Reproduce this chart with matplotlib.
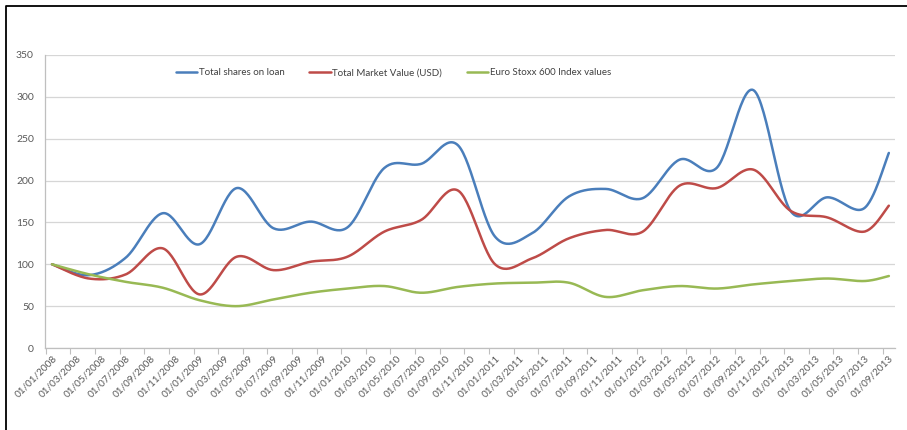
import numpy as np
import matplotlib.pyplot as plt
from matplotlib.lines import Line2D

# Quarterly observations, indexed to 100 at Jan 2008
dates = ["2008-01", "2008-04", "2008-07", "2008-10",
         "2009-01", "2009-04", "2009-07", "2009-10",
         "2010-01", "2010-04", "2010-07", "2010-10",
         "2011-01", "2011-04", "2011-07", "2011-10",
         "2012-01", "2012-04", "2012-07", "2012-10",
         "2013-01", "2013-04", "2013-07", "2013-09"]
shares_on_loan = [100, 87, 108, 161, 124, 191, 143, 151, 144, 215, 220, 242,
                  133, 137, 181, 190, 179, 225, 215, 308, 164, 180, 167, 233]
market_value = [100, 83, 88, 119, 64, 109, 93, 103, 109, 139, 153, 188,
                100, 107, 131, 141, 139, 194, 191, 213, 164, 156, 139, 170]
stoxx600 = [100, 88, 79, 72, 57, 50, 58, 66, 71, 74, 66, 73,
            77, 78, 78, 61, 69, 74, 71, 76, 80, 83, 80, 86]

# category labels every two months
tick_labels = [f"01/{m:02d}/{y}" for y in range(2008, 2014) for m in range(1, 13, 2)][:35]


def month_index(d):
    y, m = d.split("-")
    return (int(y) - 2008) * 12 + int(m) - 1


def smooth(x, y, n=30):
    # Excel-style smoothed line: cubic Bezier with control points at 1/6 of neighbour chords
    p = np.column_stack([x, y]).astype(float)
    out = []
    for i in range(len(p) - 1):
        p0 = p[i - 1] if i > 0 else p[i]
        p3 = p[i + 2] if i + 2 < len(p) else p[i + 1]
        c1 = p[i] + (p[i + 1] - p0) / 6
        c2 = p[i + 1] - (p3 - p[i]) / 6
        t = np.linspace(0, 1, n)[:, None]
        seg = ((1 - t) ** 3 * p[i] + 3 * (1 - t) ** 2 * t * c1
               + 3 * (1 - t) * t ** 2 * c2 + t ** 3 * p[i + 1])
        out.append(seg if i == 0 else seg[1:])
    seg = np.vstack(out)
    return seg[:, 0], seg[:, 1]


plt.rcParams['font.family'] = ['Lato', 'DejaVu Sans']
fig = plt.figure(figsize=(9.07, 4.30), dpi=100)
ax = fig.add_axes([45 / 907, 1 - 348 / 430, 850 / 907, 293 / 430])

months = [month_index(d) for d in dates]
series = [
    (shares_on_loan, '#4A7EBB', 'Total shares on loan'),
    (market_value, '#BE4B48', 'Total Market Value (USD)'),
    (stoxx600, '#98B954', 'Euro Stoxx 600 Index values'),
]
for vals, col, name in series:
    sx, sy = smooth(months, vals)
    ax.plot(sx, sy, color=col, lw=1.8, label=name, solid_capstyle='round')

ax.set_ylim(0, 350)
ax.set_yticks(range(0, 351, 50))
ax.set_xlim(-0.57, 68.5)
ax.set_xticks(range(0, 69, 2))
ax.set_xticklabels(tick_labels, rotation=45, ha='right', va='top',
                   rotation_mode='anchor', fontsize=7.2, color='#595959')
ax.set_xticks(np.arange(-0.5, 68, 2), minor=True)
ax.tick_params(axis='x', which='major', length=0, pad=4)
ax.tick_params(axis='x', which='minor', length=4, color='#BFBFBF', width=0.8)
ax.tick_params(axis='y', length=0, labelsize=7.5, labelcolor='#595959', pad=8)

ax.grid(axis='y', color='#D6D6D6', lw=0.9)
ax.set_axisbelow(True)
for s in ['top', 'right']:
    ax.spines[s].set_visible(False)
for s in ['left', 'bottom']:
    ax.spines[s].set_color('#BFBFBF')
    ax.spines[s].set_linewidth(0.9)

ax.legend(loc='upper center', bbox_to_anchor=(0.41, 0.985), ncol=3, frameon=False,
          fontsize=7, handlelength=2.2, handletextpad=0.2, columnspacing=2.5,
          labelcolor='#404040')

# outer frame (top and left edges)
fig.add_artist(Line2D([6 / 907, 6 / 907, 1], [0, 1 - 6 / 430, 1 - 6 / 430],
                      transform=fig.transFigure, color='black', lw=1.3))

fig.savefig('out.png', dpi=100)
